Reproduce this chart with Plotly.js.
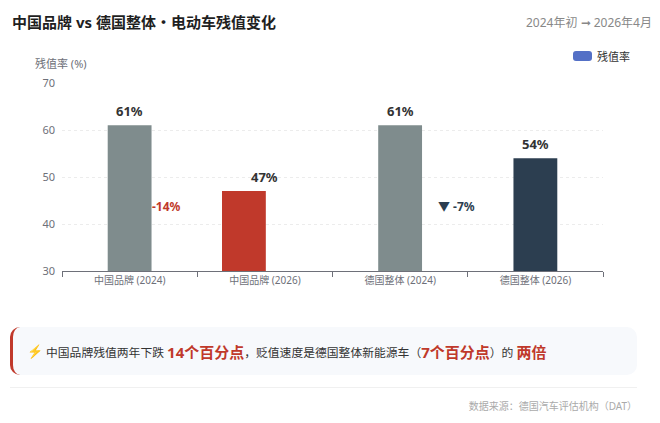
<!DOCTYPE html>
<html>
<head>
<meta charset="utf-8">
<script src="https://cdn.plot.ly/plotly-3.0.1.min.js"></script>
<style>
  body { margin: 0; width: 660px; height: 423px; background: #fff; position: relative; overflow: hidden;
         font-family: "Noto Sans", "Noto Sans CJK SC", sans-serif; }
  .title { position: absolute; left: 12px; top: 11px; font-size: 15px; font-weight: 700; color: #1f1f1f; }
  .sub { position: absolute; right: 8px; top: 13px; font-size: 12px; color: #888; }
  .legend { position: absolute; left: 573px; top: 48px; font-size: 11px; color: #333; display: flex; align-items: center; }
  .legend i { display: inline-block; width: 19px; height: 10px; border-radius: 3px; background: #5470c6; margin-right: 5px; }
  #chart { position: absolute; left: 0; top: 40px; width: 660px; height: 262px; }
  .callout { position: absolute; left: 10px; top: 327px; width: 627px; height: 48px; background: #f7f9fc;
             border-radius: 10px; border-left: 3px solid #c0392b; box-sizing: border-box;
             display: flex; align-items: center; padding-left: 14px; font-size: 11.8px; color: #333; white-space: pre; }
  .callout b { color: #c0392b; font-size: 15px; font-weight: 700; }
  .callout .bolt { color: #f1c40f; font-size: 13px; margin-right: 3px; }
  .sep { position: absolute; left: 10px; top: 387px; width: 627px; height: 1px; background: #f0f0f0; }
  .src { position: absolute; right: 23px; top: 398px; font-size: 10px; color: #aaa; }
</style>
</head>
<body>
<div class="title">中国品牌 vs 德国整体・电动车残值变化</div>
<div class="sub">2024年初 ➞ 2026年4月</div>
<div class="legend"><i></i>残值率</div>
<div id="chart"></div>
<div class="callout"><span class="bolt">⚡</span>中国品牌残值两年下跌 <b>14个百分点</b>，贬值速度是德国整体新能源车（<b>7个百分点</b>）的 <b>两倍</b></div>
<div class="sep"></div>
<div class="src">数据来源：德国汽车评估机构（DAT）</div>
<script>
// ─── data ───
const categories = ["中国品牌 (2024)", "中国品牌 (2026)", "德国整体 (2024)", "德国整体 (2026)"];
const values = [61, 47, 61, 54];
const barColors = ["#7f8c8d", "#c0392b", "#7f8c8d", "#2c3e50"];
const changeLabels = ["-14%", "▼ -7%"];
const changeColors = ["#c0392b", "#2c3e50"];

const axisGray = "#6e7079";

const bars = {
  x: categories,
  y: values,
  type: "bar",
  width: 0.324,
  offset: [-0.162, -0.317, -0.162, -0.162],
  marker: { color: barColors },
  hoverinfo: "x+y",
  showlegend: false,
};

// value labels sit on the category centre
const valueNotes = categories.map((c, i) => ({
  x: c,
  y: values[i],
  text: `<b>${values[i]}%</b>`,
  showarrow: false,
  yanchor: "bottom",
  yshift: 3,
  font: { size: 13, color: "#333" },
}));

const changeNotes = [
  { x: 0.27, y: 43.8, text: `<b>${changeLabels[0]}</b>`, font: { size: 12, color: changeColors[0] } },
  { x: 2.42, y: 43.8, text: `<b>${changeLabels[1]}</b>`, font: { size: 12, color: changeColors[1] } },
].map((a) => Object.assign({ showarrow: false, xanchor: "center", yanchor: "middle" }, a));

const yTitle = {
  xref: "paper", yref: "paper", x: 0, y: 1, xshift: -1, yshift: 20,
  text: "残值率 (%)", showarrow: false, xanchor: "center", yanchor: "middle",
  font: { size: 11, color: axisGray },
};

Plotly.newPlot("chart", [bars], {
  width: 660,
  height: 262,
  margin: { l: 62, r: 57, t: 43, b: 31 },
  paper_bgcolor: "rgba(0,0,0,0)",
  plot_bgcolor: "rgba(0,0,0,0)",
  font: { family: "Noto Sans, Noto Sans CJK SC, sans-serif", color: axisGray },
  xaxis: {
    type: "category",
    showline: true,
    linecolor: axisGray,
    linewidth: 1,
    ticks: "outside",
    tickson: "boundaries",
    ticklen: 5,
    tickcolor: axisGray,
    tickfont: { size: 10, color: axisGray },
    showgrid: false,
    fixedrange: true,
  },
  yaxis: {
    range: [30, 70],
    dtick: 10,
    showline: false,
    zeroline: false,
    gridcolor: "#ececec",
    griddash: "3px,3px",
    tickfont: { size: 11, color: axisGray },
    ticklabelstandoff: 6,
    fixedrange: true,
  },
  annotations: valueNotes.concat(changeNotes, [yTitle]),
}, { displayModeBar: false, staticPlot: true });
</script>
</body>
</html>
